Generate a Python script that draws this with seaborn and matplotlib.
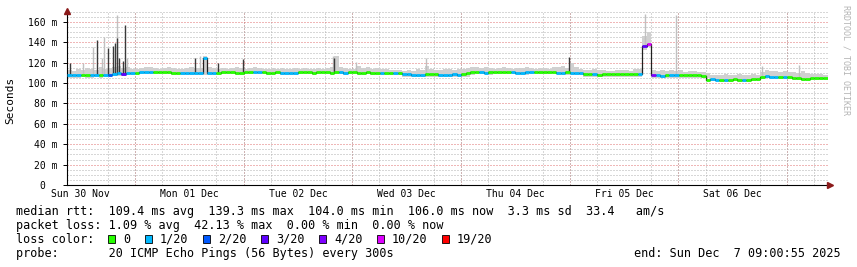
import matplotlib
matplotlib.use("Agg")
import matplotlib.pyplot as plt
import matplotlib.dates as mdates
from matplotlib.patches import Rectangle
from matplotlib.ticker import MultipleLocator, FuncFormatter
import numpy as np
import pandas as pd
import seaborn as sns

sns.set_theme(style="white")
plt.rcParams["font.family"] = "DejaVu Sans Mono"

# time range of the graph (one value per hour)
start = pd.Timestamp("2025-11-30 09:00:55")
end = pd.Timestamp("2025-12-07 09:00:55")

# median rtt per hour (ms)
median_ms = [
    107.5, 107.5, 107.5, 108.0, 107.5, 107.5, 108.0, 107.5, 108.0, 108.0,
    109.0, 109.5, 109.0, 109.5, 109.5,
    110.0, 110.5, 111.0, 110.5, 111.0, 111.0, 110.5, 110.5, 110.0, 110.0,
    110.0, 109.5, 109.5, 109.5, 109.5,
    125.0,
    109.5, 109.5, 110.0, 110.5, 110.5, 110.5, 110.0, 110.0,
    110.5, 111.0, 111.0, 110.5, 110.5, 110.0, 110.0, 110.5, 110.0, 110.0,
    110.0, 110.0, 110.5, 110.5, 110.5, 110.0, 110.5, 110.5, 110.5, 110.0, 110.5, 110.5, 110.0, 110.5,
    110.5, 110.0, 110.0, 110.5, 110.0, 110.0, 110.0, 110.0, 109.5, 109.5, 109.5,
    108.5, 108.5, 108.0, 108.0, 108.0, 108.5, 108.5, 108.5, 108.0, 108.0, 108.0, 108.5, 108.0,
    108.5, 109.5,
    110.5, 110.5, 110.5, 110.0, 110.5, 110.5, 110.5, 110.5, 110.5, 110.5, 110.0,
    110.0, 110.5, 110.5, 110.5, 110.5, 110.5, 110.5, 110.5, 110.0, 110.0, 110.5,
    110.0, 110.0, 109.5,
    108.5, 108.5, 108.5, 108.0, 108.5, 108.5, 108.5, 108.5, 108.5, 108.5, 108.5, 108.5, 108.5,
    136.0, 138.0,
    107.5, 107.5, 107.0, 107.5, 107.5, 107.5, 107.5, 107.5, 107.5, 107.5, 107.5, 107.0,
    103.5, 104.0, 103.5, 103.5, 103.5, 103.5, 104.0, 103.5, 103.5, 103.5, 104.0, 104.0,
    106.5, 107.0, 106.5, 106.5, 106.5, 106.5, 106.5,
    105.0, 105.0, 104.5, 104.5, 105.0, 105.0, 105.0, 105.5,
]

# lost pings (of 20) per hour
loss_count = [0] * 168
for h, c in {0: 1, 1: 1, 2: 1, 5: 1, 6: 1, 8: 1, 9: 2, 10: 1, 11: 1, 12: 3,
             13: 1, 14: 1, 16: 1, 17: 1, 18: 1, 25: 1, 26: 1, 27: 1, 28: 1,
             29: 1, 30: 1, 31: 1, 32: 1, 41: 1, 42: 1, 47: 1, 48: 1, 49: 1,
             50: 1, 60: 1, 61: 1, 69: 1, 72: 1, 74: 1, 75: 1, 76: 1, 77: 1,
             78: 1, 82: 1, 83: 1, 84: 1, 85: 1, 86: 1, 91: 1, 92: 1, 98: 1,
             99: 1, 100: 1, 101: 1, 102: 1, 108: 1, 109: 1, 111: 1, 112: 1,
             113: 1, 116: 1, 126: 1, 127: 3, 128: 10, 129: 4, 130: 1, 131: 1,
             133: 1, 134: 1, 142: 1, 143: 1, 145: 1, 149: 1, 154: 1, 155: 1,
             156: 1, 158: 1}.items():
    loss_count[h] = c

# smoke band (lowest / highest ping per hour, ms)
smoke_hi = [
    113, 112, 114, 113, 115, 114, 113, 116, 114, 115, 116, 117,
    115, 116, 114, 114, 115, 116, 116, 115, 114, 115, 116, 115,
    114, 114, 115, 116, 115, 115, 127, 116, 115, 114, 115, 114,
    115, 116, 115, 114, 115, 116, 115, 114, 114, 115, 114, 115,
    114, 114, 115, 114, 115, 114, 114, 115, 114, 115, 116, 127,
    116, 115, 114, 114, 117, 115, 116, 114, 115, 114, 114, 113,
    113, 113, 112, 113, 112, 114, 113, 117, 114, 113, 113, 114,
    114, 113, 114, 114, 115, 116, 116, 115, 116, 115, 114, 115,
    116, 115, 114, 115, 115, 116, 115, 114, 115, 115, 114, 116,
    116, 117, 115, 120, 116, 114, 113, 113, 114, 113, 113, 112,
    112, 113, 113, 113, 112, 114, 114, 146, 150, 113, 112, 113,
    112, 113, 112, 113, 111, 112, 112, 111, 111, 110, 108, 108,
    108, 109, 108, 108, 109, 108, 108, 109, 108, 111, 113, 112,
    112, 111, 112, 111, 111, 110, 112, 110, 109, 109, 109, 108,
]
smoke_lo = [
    105.5, 105.5, 105.5, 106, 105.5, 105.5, 106, 105.5, 106, 106, 107, 107,
    107, 107.5, 107.5, 108, 108.5, 109, 108.5, 109, 109, 108.5, 108.5, 108,
    108, 108, 107.5, 107.5, 107.5, 107.5, 108, 107.5, 107.5, 108, 108.5, 108.5,
    108.5, 108, 108, 108.5, 109, 109, 108.5, 108.5, 108, 108, 108.5, 108,
    108, 108, 108, 108.5, 108.5, 108.5, 108, 108.5, 108.5, 108.5, 108, 108.5,
    108.5, 108, 108.5, 108.5, 108, 108, 108.5, 108, 108, 108, 108, 107.5,
    107.5, 107.5, 106.5, 106.5, 106, 106, 106, 106.5, 106.5, 106.5, 106, 106,
    106, 106.5, 106, 106, 106.5, 108, 108.5, 108.5, 108.5, 108, 108.5, 108.5,
    108.5, 108.5, 108.5, 108.5, 108, 108, 108.5, 108.5, 108.5, 108.5, 108.5, 108.5,
    108.5, 108, 108, 108, 108, 107.5, 106.5, 106.5, 106.5, 106, 106.5, 106.5,
    106.5, 106.5, 106.5, 106.5, 106.5, 106.5, 106.5, 133, 135, 105.5, 105.5, 105,
    105.5, 105.5, 105.5, 105.5, 105.5, 105.5, 105.5, 105.5, 105.5, 105, 102, 102,
    101.5, 101.5, 101.5, 102, 101.5, 101.5, 101.5, 102, 102, 104.5, 105, 104.5,
    104.5, 104.5, 104.5, 104.5, 103, 103, 102.5, 102.5, 103, 103, 103, 103.5,
]

# single outlier pings (hour offset from start, top in ms)
light_spike_h = [3.5, 5.7, 7.7, 8.1, 11.0, 13.2, 29.3, 58.8, 63.9, 79.3,
                 127.5, 134.4, 153.5, 161.5]
light_spike_top = [120, 135, 125, 145, 167, 125, 127, 127, 121, 125,
                   168, 167, 117, 118]
dark_spike_h = [0.7, 6.6, 9.0, 10.1, 10.5, 11.0, 11.5, 12.3, 12.8, 28.2,
                30.2, 30.7, 33.3, 38.8, 59.0, 110.8]
dark_spike_top = [120, 142, 134, 136, 139, 144, 125, 122, 157, 125,
                  125, 125, 120, 124, 125, 126]

loss_levels = [0, 1, 2, 3, 4, 10, 19]
loss_labels = ["0", "1/20", "2/20", "3/20", "4/20", "10/20", "19/20"]
loss_colors = ["#26ff00", "#00b8ff", "#0059ff", "#5e00ff", "#7e00ff",
               "#dd00ff", "#ff0000"]


def loss_color(c):
    idx = max(i for i, lv in enumerate(loss_levels) if c >= lv)
    return loss_colors[idx]


W, H = 857, 267
fig = plt.figure(figsize=(W / 100, H / 100), dpi=100)
fig.patch.set_facecolor("white")
ax = fig.add_axes([67 / W, (H - 185) / H, 761 / W, 173.7 / H])
ax.set_facecolor("white")

edges = mdates.date2num(pd.date_range(start, end, freq="h").to_pydatetime())
t0 = edges[0]
median = np.array(median_ms)
lo = np.array(smoke_lo)
hi = np.array(smoke_hi)

# smoke
ax.bar(edges[:-1], hi - lo, bottom=lo, width=1 / 24, align="edge",
       color="#d0d0d0", linewidth=0, zorder=2)
lx = t0 + np.array(light_spike_h) / 24
ax.vlines(lx, median[np.array(light_spike_h, dtype=int)], light_spike_top,
          color="#c0c0c0", linewidth=1.0, zorder=2.1)
dx = t0 + np.array(dark_spike_h) / 24
ax.vlines(dx, median[np.array(dark_spike_h, dtype=int)], dark_spike_top,
          color="#3a3a3a", linewidth=1.0, zorder=2.2)

# median line: black step connectors, coloured by loss on top
sns.lineplot(x=edges[:-1], y=median, drawstyle="steps-post", color="#202020",
             linewidth=0.9, ax=ax, zorder=2.5, legend=False)
ax.hlines(median, edges[:-1], edges[1:],
          colors=[loss_color(c) for c in loss_count], linewidth=2.0,
          zorder=3)

ax.set_xlim(edges[0], edges[-1])
ax.set_ylim(0, 170.5)

# grid
ax.xaxis.set_major_locator(mdates.HourLocator(byhour=12))
ax.xaxis.set_major_formatter(mdates.DateFormatter("%a %d %b"))
ax.xaxis.set_minor_locator(mdates.HourLocator(byhour=[0, 6, 12, 18]))
ax.yaxis.set_major_locator(MultipleLocator(20))
ax.yaxis.set_minor_locator(MultipleLocator(5))
ax.yaxis.set_major_formatter(FuncFormatter(lambda v, p: "0  " if v == 0 else f"{v:.0f} m"))
dots = (0, (1, 2))
ax.grid(which="minor", axis="both", color="#b0b0b0", linestyle=dots,
        linewidth=0.72, zorder=0)
ax.grid(which="major", axis="y", color="#e07070", linestyle=dots,
        linewidth=0.72, zorder=0)
for d in pd.date_range("2025-12-01", "2025-12-07", freq="D"):
    ax.axvline(mdates.date2num(d.to_pydatetime()), color="#e07070",
               linestyle=dots, linewidth=0.72, zorder=0.5)
ax.set_axisbelow(True)

for s in ["top", "right"]:
    ax.spines[s].set_visible(False)
for s in ["left", "bottom"]:
    ax.spines[s].set_color("#000000")
    ax.spines[s].set_linewidth(0.8)
ax.tick_params(axis="x", which="both", length=0, pad=3, labelsize=7, colors="black")
ax.tick_params(axis="y", which="major", length=3, width=0.7, pad=4, labelsize=7,
               colors="black", left=True)
ax.tick_params(axis="y", which="minor", length=0)
ax.set_xlabel("")
ax.set_ylabel("Seconds", fontsize=8, color="black")
ax.yaxis.set_label_coords(-0.068, 0.49)

# axis arrows
ax.plot([0], [1.0], marker="^", markersize=4, color="#8b1a1a",
        transform=ax.transAxes, clip_on=False, zorder=5)
ax.plot([1.003], [0], marker=">", markersize=4, color="#8b1a1a",
        transform=ax.transAxes, clip_on=False, zorder=5)

# watermark
fig.text(846 / W, (H - 5) / H, "RRDTOOL / TOBI OETIKER", rotation=270,
         ha="center", va="top", fontsize=6, color="#b4b4b4")

# legend block
fs = 8.5


def ftext(x, y, s, ha="left"):
    fig.text(x / W, (H - y) / H, s, fontsize=fs, color="black",
             va="baseline", ha=ha)


ftext(16, 215, "median rtt:  109.4 ms avg  139.3 ms max  104.0 ms min  "
      "106.0 ms now  3.3 ms sd  33.4   am/s")
ftext(16, 229, "packet loss: 1.09 % avg  42.13 % max  0.00 % min  0.00 % now")
ftext(16, 243, "loss color:")
bx = 108
for lab, col in zip(loss_labels, loss_colors):
    fig.patches.append(Rectangle((bx / W, (H - 243) / H), 7 / W, 8 / H,
                                 transform=fig.transFigure, facecolor=col,
                                 edgecolor="black", linewidth=0.6))
    ftext(bx + 15, 243, lab)
    bx = bx + 15 + len(lab) * 7 + 15
ftext(16, 257, "probe:       20 ICMP Echo Pings (56 Bytes) every 300s")
ftext(841, 257, "end: Sun Dec  7 09:00:55 2025", ha="right")

fig.savefig("out.png", dpi=100)
